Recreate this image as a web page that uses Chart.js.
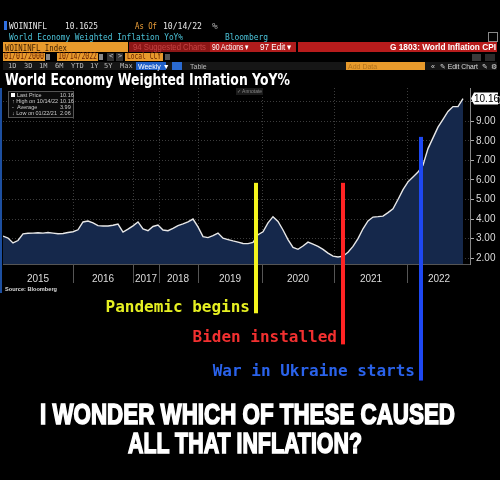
<!DOCTYPE html>
<html>
<head>
<meta charset="utf-8">
<script src="https://cdn.jsdelivr.net/npm/chart.js@4.4.1/dist/chart.umd.min.js"></script>
<style>
  html, body { margin: 0; padding: 0; background: #000; }
  #wrap { position: relative; width: 500px; height: 480px; overflow: hidden; background: #000; }
  #chart { position: absolute; left: 0; top: 0; }
  .t { position: absolute; white-space: nowrap; line-height: 1; transform-origin: 0 50%;
       font-family: "DejaVu Sans Mono", monospace; font-size: 9.5px; color: #e6e6e6; }
  .b { position: absolute; }
  .s { font-family: "Liberation Sans", Arial, sans-serif; }
  .p { font-size: 7px; color: #bbb; top: 62.5px; }
  .lg { font-family: "Liberation Sans", Arial, sans-serif; font-size: 5.5px; color: #ccc; }
  .cap { font-family: "Liberation Sans Narrow", "Liberation Sans", sans-serif; font-weight: bold;
         font-size: 30px; color: #fff; -webkit-text-stroke: 1.6px #fff; }
</style>
</head>
<body>
<div id="wrap">
  <canvas id="chart" width="500" height="480"></canvas>

  <!-- terminal header -->
  <div class="b" style="left:4px;top:21px;width:3px;height:9px;background:#2f6fe0"></div>
  <div class="t" data-w="38" style="left:9px;top:21px">WOININFL</div>
  <div class="t" data-w="33" style="left:65px;top:21px">10.1625</div>
  <div class="t" data-w="22" style="left:135px;top:21px;color:#f2a33a">As Of</div>
  <div class="t" data-w="39" style="left:163px;top:21px">10/14/22</div>
  <div class="t" style="left:212px;top:21px;color:#aaa">%</div>
  <div class="t" data-w="174" style="left:9px;top:32px;color:#4cc3d9">World Economy Weighted Inflation YoY%</div>
  <div class="t" data-w="43" style="left:225px;top:32px;color:#4cc3d9">Bloomberg</div>
  <div class="b" style="left:488px;top:32px;width:8px;height:8px;border:1px solid #888"></div>

  <div class="b" style="left:3px;top:42px;width:125px;height:10px;background:#e89a2c"></div>
  <div class="t" data-w="62" style="left:5px;top:43px;color:#3a1c00">WOININFL Index</div>
  <div class="b" style="left:129px;top:42px;width:81px;height:10px;background:#8c1616"></div>
  <div class="t s" data-w="73" style="left:133px;top:43px;font-size:9px;color:#c64444">94 Suggested Charts</div>
  <div class="b" style="left:210px;top:42px;width:86px;height:10px;background:#b01c1c"></div>
  <div class="t s" data-w="37" style="left:212px;top:43px;font-size:9px;color:#fff">90 Actions ▾</div>
  <div class="t s" data-w="32" style="left:260px;top:43px;font-size:9px;color:#fff">97 Edit ▾</div>
  <div class="b" style="left:298px;top:42px;width:199px;height:10px;background:#b81c1c"></div>
  <div class="t s" data-w="106" style="left:390px;top:43px;font-size:9px;color:#fff;font-weight:bold">G 1803: World Inflation CPI</div>

  <div class="b" style="left:3px;top:53px;width:42px;height:8px;background:#e89a2c"></div>
  <div class="t" data-w="40" style="left:4px;top:53px;font-size:8px;color:#6a2000">01/01/2000</div>
  <div class="b" style="left:46px;top:54px;width:4px;height:6px;background:#888"></div>
  <div class="b" style="left:57px;top:53px;width:41px;height:8px;background:#e89a2c"></div>
  <div class="t" data-w="39" style="left:58px;top:53px;font-size:8px;color:#6a2000">10/14/2022</div>
  <div class="b" style="left:99px;top:54px;width:4px;height:6px;background:#888"></div>
  <div class="b" style="left:107px;top:53px;width:7px;height:8px;background:#333"></div>
  <div class="b" style="left:116px;top:53px;width:7px;height:8px;background:#333"></div>
  <div class="t" style="left:109px;top:53px;font-size:7px;color:#ccc">&lt;</div>
  <div class="t" style="left:118px;top:53px;font-size:7px;color:#ccc">&gt;</div>
  <div class="b" style="left:125px;top:53px;width:38px;height:8px;background:#e89a2c"></div>
  <div class="t" data-w="34" style="left:127px;top:53px;font-size:8px;color:#6a2000">Local CCY</div>
  <div class="b" style="left:165px;top:54px;width:5px;height:6px;background:#555"></div>
  <div class="b" style="left:472px;top:54px;width:9px;height:7px;background:#3a3a3a"></div>
  <div class="b" style="left:485px;top:54px;width:10px;height:7px;background:#2a2a2a"></div>

  <div class="b" style="left:3px;top:62px;width:494px;height:8px;background:#161616"></div>
  <div class="t p" style="left:8px">1D</div>
  <div class="t p" style="left:24px">3D</div>
  <div class="t p" style="left:39px">1M</div>
  <div class="t p" style="left:55px">6M</div>
  <div class="t p" style="left:71px">YTD</div>
  <div class="t p" style="left:90px">1Y</div>
  <div class="t p" style="left:104px">5Y</div>
  <div class="t p" style="left:120px">Max</div>
  <div class="b" style="left:136px;top:62px;width:30px;height:8px;background:#1f5fc8"></div>
  <div class="t s" style="left:138px;top:62.5px;font-size:7px;color:#fff">Weekly ▼</div>
  <div class="b" style="left:172px;top:62px;width:10px;height:8px;background:#2a6ad0"></div>
  <div class="t s" style="left:190px;top:62.5px;font-size:7px;color:#bbb">Table</div>
  <div class="b" style="left:346px;top:62px;width:79px;height:8px;background:#e89a2c"></div>
  <div class="t s" style="left:348px;top:62.5px;font-size:7px;color:#b0701a">Add Data</div>
  <div class="t s" style="left:431px;top:62.5px;font-size:7px;color:#ddd">«</div>
  <div class="t s" data-w="38" style="left:440px;top:62.5px;font-size:7px;color:#ddd">✎ Edit Chart</div>
  <div class="t s" style="left:482px;top:62.5px;font-size:7px;color:#ddd">✎</div>
  <div class="t s" style="left:491px;top:62.5px;font-size:7px;color:#ddd">⚙</div>

  <div class="t" data-w="285" style="left:5px;top:73px;font-family:'DejaVu Sans',sans-serif;font-weight:bold;font-size:15px;color:#fff">World Economy Weighted Inflation YoY%</div>

  <!-- legend box -->
  <div class="b" style="left:8px;top:91px;width:64px;height:25px;background:#0b0b0b;border:1px solid #555"></div>
  <div class="b" style="left:11px;top:93px;width:4px;height:4px;background:#fff"></div>
  <div class="t lg" style="left:17px;top:93px">Last Price</div>
  <div class="t lg" style="left:60px;top:93px">10.16</div>
  <div class="t lg" style="left:12px;top:99px">↑ High on 10/14/22</div>
  <div class="t lg" style="left:60px;top:99px">10.16</div>
  <div class="t lg" style="left:12px;top:105px">- &nbsp;Average</div>
  <div class="t lg" style="left:60px;top:105px">3.99</div>
  <div class="t lg" style="left:12px;top:111px">↓ Low on 01/22/21</div>
  <div class="t lg" style="left:60px;top:111px">2.06</div>
  <div class="t s" style="left:236px;top:88px;font-size:5px;color:#888;background:#1a1a1a;padding:1px">✓ Annotate</div>

  <div class="b" style="left:0;top:88px;width:2px;height:205px;background:#1d4fa0"></div>
  <div class="t s" data-w="52" style="left:5px;top:286px;font-size:6px;font-weight:bold;color:#ddd">Source: Bloomberg</div>

  <!-- caption -->
  <div class="t cap" data-w="415" style="left:40px;top:399px">I WONDER WHICH OF THESE CAUSED</div>
  <div class="t cap" data-w="234" style="left:128px;top:428px">ALL THAT INFLATION?</div>
</div>

<script>
// ===== DATA =====
// weekly-ish samples of the index (YoY %), left to right
const inflation = [
  3.13, 3.03, 2.78, 2.90, 3.24, 3.27, 3.28, 3.30, 3.28, 3.31,
  3.28, 3.25, 3.26, 3.31, 3.35, 3.45, 3.85, 3.90, 3.80, 3.66,
  3.64, 3.64, 3.68, 3.74, 3.33, 3.48, 3.65, 3.85, 3.50, 3.40,
  3.62, 3.69, 3.44, 3.40, 3.52, 3.66, 3.75, 3.85, 4.00, 3.60,
  3.10, 3.05, 3.15, 3.28, 3.02, 2.95, 2.88, 2.82, 2.75, 2.74,
  2.80, 3.20, 3.35, 3.80, 4.12, 3.88, 3.44, 2.95, 2.55, 2.45,
  2.62, 2.82, 2.72, 2.60, 2.45, 2.26, 2.10, 2.06, 2.10, 2.30,
  2.60, 3.00, 3.50, 3.90, 4.10, 4.12, 4.15, 4.33, 4.52, 5.00,
  5.50, 5.90, 6.15, 6.40, 6.75, 7.60, 8.15, 8.70, 9.10, 9.50,
  9.75, 9.75, 10.16
];
const lastPrice = '10.16';
// x axis (sample index units): year label centres and year boundaries
const yearLabels = ['2015', '2016', '2017', '2018', '2019', '2020', '2021', '2022'];
const yearCenters = [7, 20, 28.6, 35, 45.4, 59, 73.6, 87.2];
const yearBounds = [14, 26, 31.2, 39, 51.8, 66.2, 80.8];
const yTicks = [2, 3, 4, 5, 6, 7, 8, 9, 10];
// meme annotations
const eventNames = ['Pandemic begins', 'Biden installed', 'War in Ukraine starts'];
const eventX = [50.6, 68, 83.6];
const eventTop = [5.85, 5.85, 8.2];
const eventBottom = [-0.82, -2.41, -4.26];
const eventLabelY = [-0.56, -2.10, -3.79];
const eventColors = ['#f4f41e', '#ff2424', '#1e48f2'];
const eventTextColors = ['#e6f022', '#f23030', '#2a62ea'];

// ===== EXTRA DRAWING =====
const bbgPlugin = {
  id: 'bbg',
  beforeDatasetsDraw(chart) {
    const { ctx, chartArea: a, scales: { x } } = chart;
    ctx.save();
    ctx.strokeStyle = '#3c3c3c'; ctx.lineWidth = 1; ctx.setLineDash([1, 2]);
    yearBounds.forEach(v => {
      const px = Math.round(x.getPixelForValue(v)) + 0.5;
      ctx.beginPath(); ctx.moveTo(px, a.top); ctx.lineTo(px, a.bottom); ctx.stroke();
    });
    ctx.restore();
  },
  afterDatasetsDraw(chart) {
    const { ctx, chartArea: a, scales: { x, y } } = chart;
    ctx.save();
    // year separators under the axis
    ctx.strokeStyle = '#555'; ctx.lineWidth = 1;
    yearBounds.forEach(v => {
      const px = Math.round(x.getPixelForValue(v)) + 0.5;
      ctx.beginPath(); ctx.moveTo(px, a.bottom); ctx.lineTo(px, a.bottom + 19); ctx.stroke();
    });
    // event bars + labels
    ctx.font = 'bold 16px "DejaVu Sans Mono", monospace';
    ctx.textAlign = 'right'; ctx.textBaseline = 'middle';
    eventNames.forEach((name, i) => {
      const px = x.getPixelForValue(eventX[i]);
      const top = y.getPixelForValue(eventTop[i]), bot = y.getPixelForValue(eventBottom[i]);
      ctx.fillStyle = eventColors[i];
      ctx.fillRect(px - 2, top, 4, bot - top);
      ctx.fillStyle = eventTextColors[i];
      ctx.fillText(name, px - 6, y.getPixelForValue(eventLabelY[i]));
    });
    // last value tag
    const ly = y.getPixelForValue(inflation[inflation.length - 1]);
    ctx.fillStyle = '#fff';
    ctx.beginPath();
    ctx.moveTo(a.right + 1, ly); ctx.lineTo(a.right + 4, ly - 6); ctx.lineTo(a.right + 28, ly - 6);
    ctx.lineTo(a.right + 28, ly + 6); ctx.lineTo(a.right + 4, ly + 6); ctx.closePath(); ctx.fill();
    ctx.fillStyle = '#000'; ctx.font = '10px "Liberation Sans", Arial, sans-serif';
    ctx.textAlign = 'left';
    ctx.fillText(lastPrice, a.right + 4, ly + 0.5);
    ctx.restore();
  }
};

new Chart(document.getElementById('chart'), {
  type: 'line',
  data: {
    datasets: [{
      data: inflation.map((v, i) => ({ x: i, y: v })),
      borderColor: '#e8e8e8', borderWidth: 1.4,
      backgroundColor: '#15284b', fill: 'start',
      pointRadius: 0, tension: 0
    }]
  },
  options: {
    responsive: false, animation: false, events: [],
    layout: { padding: { left: 3, top: 88, right: 0, bottom: 196 } },
    plugins: { legend: { display: false }, tooltip: { enabled: false } },
    scales: {
      x: {
        type: 'linear', min: 0, max: 93.4,
        afterBuildTicks: s => { s.ticks = yearCenters.map(v => ({ value: v })); },
        afterFit: s => { s.height = 20; },
        ticks: {
          callback: (v, i) => yearLabels[i], autoSkip: false, maxRotation: 0,
          color: '#dcdcdc', padding: 9, font: { size: 10, family: '"Liberation Sans", Arial, sans-serif' }
        },
        grid: { display: false, drawTicks: false },
        border: { color: '#555' }
      },
      y: {
        position: 'right', min: 1.7, max: 10.7,
        afterBuildTicks: s => { s.ticks = yTicks.map(v => ({ value: v })); },
        afterFit: s => { s.width = 30; },
        ticks: {
          callback: v => v.toFixed(2), color: '#dcdcdc', padding: 2,
          font: { size: 10, family: '"Liberation Sans", Arial, sans-serif' }
        },
        grid: { color: '#3c3c3c', tickColor: '#aaa', tickLength: 4, tickBorderDash: [] },
        border: { color: '#888', dash: [1, 2] }
      }
    }
  },
  plugins: [bbgPlugin]
});

// squeeze header/caption text to the widths seen in the reference
document.querySelectorAll('.t[data-w]').forEach(el => {
  const w = el.getBoundingClientRect().width;
  if (w > 0) el.style.transform = 'scaleX(' + (+el.dataset.w / w) + ')';
});
</script>
</body>
</html>
